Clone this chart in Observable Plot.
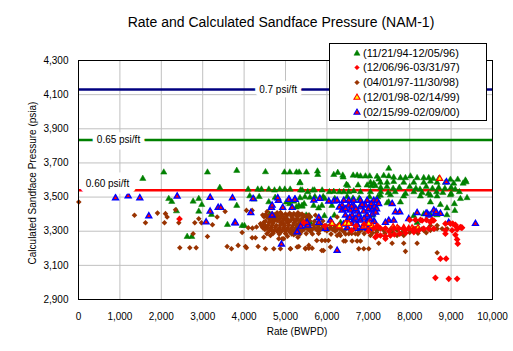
<!DOCTYPE html>
<html><head><meta charset="utf-8">
<script src="https://cdn.jsdelivr.net/npm/d3@7"></script>
<script src="https://cdn.jsdelivr.net/npm/@observablehq/plot@0.6"></script>
<style>
body{margin:0;background:#fff;font-family:"Liberation Sans",Arial,sans-serif;}
#wrap{position:relative;width:513px;height:351px;overflow:hidden;}
#title{height:30px;box-sizing:border-box;padding-left:49px;padding-top:14px;text-align:center;font-size:14px;line-height:16px;color:#000;white-space:nowrap;}
#legend{position:absolute;left:329px;top:43px;width:156px;height:76px;border:1px solid #000;background:#fff;font-size:11px;color:#000;}
.row{position:absolute;left:0;height:14px;width:156px;}
.row svg{position:absolute;left:22px;top:2px;}
.row span{position:absolute;left:33px;top:0;line-height:14px;white-space:nowrap;}
</style></head>
<body>
<div id="wrap">
<div id="title">Rate and Calculated Sandface Pressure (NAM-1)</div>
<div id="chart"></div>
<div id="legend"></div>
</div>
<script>
// ---- axis ticks ----
const xTicks = [0,1000,2000,3000,4000,5000,6000,7000,8000,9000,10000];
const yTicks = [2900,3100,3300,3500,3700,3900,4100,4300];
const xGrid = [1000,2000,3000,4000,5000,6000,7000,8000,9000];
const yGrid = [3100,3300,3500,3700,3900,4100];
const xLabel = "Rate (BWPD)";
const yLabel = "Calculated Sandface Pressure (psia)";

// ---- pressure gradient reference lines ----
const gradLabels = ["0.7 psi/ft","0.65 psi/ft","0.60 psi/ft"];
const gradPressure = [4130,3835,3540];
const gradColors = ["#000080","#008000","#ff0000"];
const gradLabelRate = [4820,966,700];

// ---- series names ----
const seriesNames = ["(11/21/94-12/05/96)"," (12/06/96-03/31/97)","(04/01/97-11/30/98)","(12/01/98-02/14/99)","(02/15/99-02/09/00)"];

// ---- series 1: green triangles (11/21/94-12/05/96) ----
const rateG = [1553,2060,3115,3823,4516,4975,5104,5265,5330,5506,5353,3413,4098,4330,4420,4596,4734,4862,4983,5113,5362,2180,2253,2769,2905,2978,2905,2367,3823,4137,4243,4364,4620,3212,3598,3953,4009,2625,2736,4596,4661,5538,5020,5100,5200,5260,5400,5450,
5772,5780,6166,6262,6383,6393,6634,6730,6810,6931,7035,7212,7252,5345,6472,6504,6754,6972,7076,7172,5402,5660,5700,5885,6061,6166,6302,6407,6528,6649,6810,7052,
4750,5350,5470,5590,5710,5910,5950,6190,6490,6630,6780,7030,7230,
5320,5400,5680,5800,5880,6120,6400,6800,7040,7190,
5500,5580,5940,6180,6780,7100,5440,5600,6330,
7494,7373,7494,7614,7776,7897,8018,8179,8339,8460,8566,8701,8984,9160,9346,9363,
7052,7132,7293,7454,7614,7856,8098,8339,8500,8661,8863,9064,9290,
7300,7450,7600,7750,8000,8150,8250,8400,8550,8700,8850,9000,9100,
7300,7480,7650,7900,8100,8300,8450,8650,8800,9000,9200,
7293,7535,7856,8259,8500,8661,8984,9225,9385,
7494,7454,7776,8500,8742,8900,9080,9090,8340,8098,8661,8500,8900,8180];
const presG = [3608,3645,3645,3655,3647,3645,3645,3645,3645,3645,3585,3555,3545,3545,3545,3545,3540,3545,3545,3545,3540,3490,3473,3475,3490,3455,3416,3418,3450,3506,3487,3502,3399,3397,3338,3332,3332,3268,3268,3471,3438,3530,3470,3460,3475,3440,3450,3460,
3651,3631,3631,3643,3627,3616,3627,3627,3622,3622,3622,3620,3604,3582,3573,3567,3569,3569,3565,3565,3540,3540,3540,3540,3530,3532,3530,3530,3530,3535,3530,3530,
3497,3495,3500,3497,3502,3502,3490,3490,3502,3492,3492,3500,3500,
3450,3445,3450,3435,3450,3450,3430,3445,3440,3440,
3393,3388,3390,3393,3398,3393,3350,3350,3350,
3667,3625,3622,3615,3612,3612,3622,3612,3612,3612,3607,3607,3603,3603,3598,3588,
3585,3580,3585,3585,3590,3585,3585,3585,3592,3585,3585,3580,3580,
3555,3560,3550,3555,3560,3550,3545,3560,3550,3555,3550,3555,3545,
3530,3525,3530,3520,3530,3525,3520,3530,3525,3520,3530,
3510,3512,3505,3505,3510,3505,3512,3490,3495,
3470,3465,3470,3470,3455,3435,3460,3420,3400,3390,3395,3398,3395,3350];

// ---- series 2: red diamonds (12/06/96-03/31/97) ----
const rateR = [2439,5441,7172,8299,8500,8581,7212,7414,7132,7293,7414,7614,7735,7856,7977,8098,8218,8339,8460,8581,8863,8984,9104,9225,8863,9024,9145,8863,9104,9145,9160,8742,8880,8621,8943,9145,9265,8001,8139,8259,8404,8541,7228,7293,7414,7534,7631,7760,9040,9120,9249,6700,6900,5950,6600,7000,7500,7900,8100];
const presR = [3372,3350,3265,3363,3353,3363,3275,3256,3317,3317,3317,3317,3317,3315,3315,3315,3305,3315,3315,3315,3344,3344,3338,3324,3305,3305,3311,3285,3279,3252,3227,3139,3139,3027,3021,3021,3321,3366,3366,3366,3366,3366,3330,3275,3270,3275,3281,3285,3344,3328,3321,3330,3340,3330,3305,3300,3300,3290,3295];

// ---- series 3: brown diamonds (04/01/97-11/30/98), scattered part ----
const rateB = [7,1352,1618,1908,2077,2101,2141,2343,2423,2447,2688,2769,2809,2842,2905,2970,3115,3236,3349,3542,3590,3695,3856,4033,4057,3953,4057,4194,4194,4274,4339,4436,4516,4395,4516,4717,4918,5120,5321,5482,5563,
4557,4677,4798,4880,4999,5100,5200,5300,5400,
4596,4700,4758,4850,4959,5050,5120,5200,5281,5380,5522,5724,6248,
4476,4600,4700,4878,4950,5050,5200,5321,5450,
4100,4200,4300,4450,4550,4650,4750,4850,4950,5050,5150,5250,5350,5500,5600,5700,5800,5900,6000,6100,6200,6300,
4600,4700,4800,4900,5000,5100,5200,5300,5400,5600,5800,6000,6200,6400,6600,6800,7000,7052,7213,7373,7534,7695,7856,8017,8178,8339,8500,
4476,4637,4837,4958,5050,5200,5300,6248,6327,6528,6689,7052,7293,7534,7695,7856,
4878,5120,5281,5482,5563,5644,5756,5877,5957,6037,5877,5917,6086,6407,6448,6609,6730,6810,6770,6891,7011,7252,7575,7856,8179,7897,8663,8663,8783,8904,8500,8663];
const presB = [3471,3393,3350,3406,3350,3403,3383,3426,3350,3203,3203,3285,3350,3203,3373,3350,3269,3338,3383,3416,3211,3197,3217,3211,3203,3293,3422,3422,3262,3262,3211,3328,3321,3344,3197,3197,3256,3197,3211,3197,3217,
3416,3403,3408,3410,3401,3405,3403,3408,3400,
3377,3375,3369,3372,3373,3370,3363,3370,3373,3368,3377,3393,3383,
3353,3350,3348,3350,3345,3350,3348,3344,3350,
3320,3318,3325,3320,3318,3320,3322,3318,3320,3318,3320,3318,3322,3320,3318,3320,3322,3318,3320,3318,3322,3318,
3300,3295,3300,3298,3302,3296,3300,3298,3302,3300,3298,3302,3300,3298,3302,3300,3302,3305,3305,3305,3305,3305,3305,3305,3305,3305,3305,
3265,3275,3256,3256,3270,3280,3265,3275,3275,3285,3285,3275,3275,3275,3275,3275,
3197,3197,3207,3200,3200,3200,3246,3246,3246,3246,3187,3187,3207,3243,3243,3243,3243,3243,3197,3197,3197,3229,3229,3229,3229,3182,3174,3315,3315,3315,3334,3334];

// ---- series 3: brown diamonds, dense cluster part ----
const rateB2 = [4450,4520,4620,4740,4820,4920,5040,5150,5250,5350,5450,5550,
4480,4560,4660,4780,4900,5000,5150,5300,5420,5600,
4520,4640,4720,4800,4920,5020,5100,5250,5350,5480,5580,5700,5900,
4420,4500,4580,4680,4780,4880,4980,5080,5180,5280,5380,5480,5580,5680,5780,5880,5980,6080,6180,6280,
4500,4650,4750,4850,4950,5050,5150,5250,5350,5450,5550,5650,5750,5850,5950,6050,6150,6250,6350,6450,6550,6650,6750,6850,6950,
4550,4700,4850,5000,5150,5250,5350,5500,5650,5800,6100,6300,6450,6600,6750,6900,
7100,7200,7400,7600,7800,8000,8200,8400,
7100,7250,7400,7550,7700,7850,8000,8150,8300,8450,8600];
const presB2 = [3395,3398,3392,3396,3394,3397,3393,3396,3394,3398,3392,3395,
3385,3382,3386,3384,3387,3383,3385,3386,3382,3384,
3360,3362,3358,3361,3359,3362,3358,3360,3361,3359,3362,3358,3360,
3335,3337,3333,3336,3334,3337,3333,3336,3334,3337,3333,3336,3334,3337,3333,3336,3334,3337,3333,3336,
3310,3312,3308,3311,3309,3312,3308,3311,3309,3312,3308,3311,3309,3312,3308,3311,3309,3312,3308,3311,3309,3312,3308,3311,3309,
3285,3287,3283,3286,3284,3287,3283,3286,3284,3287,3283,3286,3284,3287,3283,3286,
3290,3292,3288,3291,3289,3292,3288,3291,
3315,3317,3313,3316,3314,3317,3313,3316,3314,3317,3313];

// ---- series 4: red/yellow triangles (12/01/98-02/14/99) ----
const rateT = [6126,6448,6528,7092,7856,7977,8058,7011,8726,6300,6900,7200,7600,7700,8200];
const presT = [3344,3344,3344,3330,3320,3315,3318,3344,3608,3330,3330,3325,3325,3320,3320];

// ---- series 5: blue triangles (02/15/99-02/09/00) ----
const rateU = [894,1200,1481,1698,2383,3083,3180,3180,3374,3438,3719,3775,4161,4218,4661,4830,4934,5088,5161,5233,5282,5369,4902,5538,3792,
4813,5080,5224,5684,5829,6045,6166,6247,6407,6528,6649,6810,6972,7132,7212,
6368,6528,6649,6810,6931,7052,6368,6569,6730,6891,7092,6448,6609,6770,6972,6488,6649,6810,6972,7132,6730,6931,5805,5805,6086,5522,4677,4677,
7070,7150,7200,7250,7100,7180,7576,7655,7760,8179,8420,8460,8581,8621,8742,8887,8943,9588,7494,7614,7414,7148,7977,8395,8637,6247,5965,
6300,6450,6600,6700,6850,7000,6550,6700,6900,7050,6400,6600,6850,6500,6700,7000];
const presU = [3494,3506,3494,3389,3504,3353,3497,3416,3438,3438,3494,3349,3408,3490,3438,3480,3438,3485,3438,3485,3295,3328,3223,3334,3347,
3494,3485,3485,3481,3491,3475,3475,3480,3480,3480,3480,3480,3480,3480,3480,
3451,3451,3447,3441,3451,3441,3422,3422,3416,3416,3422,3393,3393,3393,3393,3363,3363,3363,3357,3357,3338,3338,3379,3350,3363,3350,3451,3393,
3460,3445,3430,3460,3400,3410,3461,3412,3412,3408,3403,3393,3422,3403,3403,3588,3350,3344,3363,3363,3350,3355,3372,3403,3412,3187,3315,
3440,3430,3445,3430,3455,3430,3380,3375,3375,3370,3340,3345,3320,3320,3315,3315];

const toRows = (xs, ys) => xs.map((x, i) => ({rate: x, pres: ys[i]}));
const green = toRows(rateG, presG);
const red = toRows(rateR, presR);
const brown = toRows(rateB, presB).concat(toRows(rateB2, presB2));
const redTri = toRows(rateT, presT);
const blue = toRows(rateU, presU);
const grads = gradLabels.map((t, i) => ({label: t, pres: gradPressure[i], color: gradColors[i], rate: gradLabelRate[i]}));
const gradsOn = grads.slice(0, 2);   // labels centred on their line
const gradsAbove = grads.slice(2);   // label sitting just above its line

const font = "Liberation Sans, Arial, sans-serif";
const halo = {x: "rate", y: "pres", text: "label", stroke: "white", strokeWidth: 9, strokeLinejoin: "round", fill: "white", fontSize: 10};
const ink = {x: "rate", y: "pres", text: "label", fill: "black", fontSize: 10};
const chart = Plot.plot({
  width: 513, height: 321,
  marginTop: 30, marginBottom: 52, marginLeft: 78, marginRight: 21,
  style: {fontFamily: font, fontSize: "10px", background: "white", color: "black", overflow: "visible"},
  x: {domain: [0, 10000], ticks: xTicks, tickFormat: d3.format(","), tickSize: 0, tickPadding: 13, label: null},
  y: {domain: [2900, 4300], ticks: yTicks, tickFormat: d3.format(","), tickSize: 0, tickPadding: 10, label: null},
  marks: [
    Plot.ruleX(xGrid, {stroke: "#c0c0c0", strokeWidth: 1}),
    Plot.ruleY(yGrid, {stroke: "#c0c0c0", strokeWidth: 1}),
    Plot.ruleY(grads, {y: "pres", stroke: "color", strokeWidth: 2.5}),
    Plot.dot(green, {x: "rate", y: "pres", symbol: "triangle", r: 2.3, fill: "#008000", stroke: "#008000", strokeWidth: 0.5}),
    Plot.dot(brown, {x: "rate", y: "pres", symbol: "diamond2", r: 2.5, fill: "#993300", stroke: "none"}),
    Plot.dot(blue, {x: "rate", y: "pres", symbol: "triangle", r: 2.2, fill: "#ff0000", stroke: "#0000ff", strokeWidth: 1.4}),
    Plot.dot(redTri, {x: "rate", y: "pres", symbol: "triangle", r: 2.2, fill: "#ffff00", stroke: "#ff0000", strokeWidth: 1.2}),
    Plot.dot(red, {x: "rate", y: "pres", symbol: "diamond2", r: 3, fill: "#ff0000", stroke: "none"}),
    Plot.text(gradsOn, halo),
    Plot.text(gradsAbove, {...halo, dy: -6, strokeWidth: 13}),
    Plot.text(gradsOn, ink),
    Plot.text(gradsAbove, {...ink, dy: -6}),
    Plot.frame({stroke: "black", strokeWidth: 1})
  ]
});
document.getElementById("chart").appendChild(chart);

// axis titles (placed relative to the plot frame)
const svg = d3.select(chart);
svg.append("text").text(xLabel)
  .attr("x", 297).attr("y", 301).attr("dy", "0.35em")
  .attr("text-anchor", "middle").attr("font-size", 10).attr("font-family", font).attr("fill", "black");
svg.append("text").text(yLabel)
  .attr("transform", "translate(32,153) rotate(-90)").attr("dy", "0.35em")
  .attr("text-anchor", "middle").attr("font-size", 10).attr("font-family", font).attr("fill", "black");

// ---- legend ----
const legendColors = [["#008000","#008000"],["#ff0000","#ff0000"],["#993300","#993300"],["#ffff00","#ff0000"],["#ff0000","#0000ff"]];
const legendSymbols = [d3.symbolTriangle, d3.symbolDiamond2, d3.symbolDiamond2, d3.symbolTriangle, d3.symbolTriangle];
const legend = d3.select("#legend");
seriesNames.forEach((name, i) => {
  const row = legend.append("div").attr("class", "row").style("top", (1.5 + i * 14.8) + "px");
  const s = row.append("svg").attr("width", 10).attr("height", 10);
  s.append("path")
    .attr("transform", "translate(5,5.5)")
    .attr("d", d3.symbol(legendSymbols[i], i === 1 || i === 2 ? 14 : 16)())
    .attr("fill", legendColors[i][0])
    .attr("stroke", legendColors[i][1])
    .attr("stroke-width", i >= 3 ? 1.1 : 0.5);
  row.append("span").text(name);
});
</script>
</body></html>
